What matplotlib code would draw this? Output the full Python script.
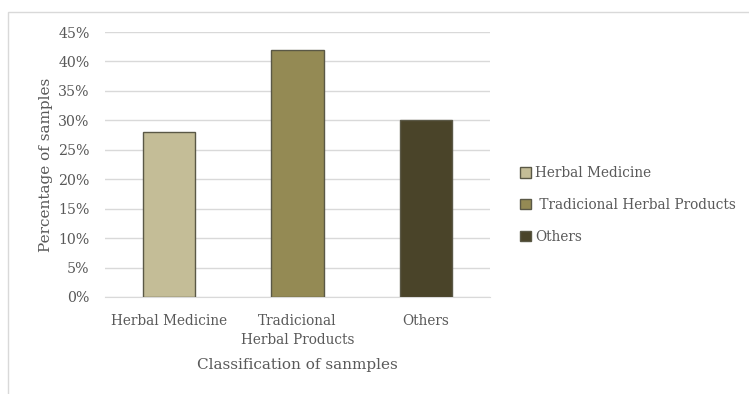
import matplotlib
matplotlib.use("Agg")
import matplotlib.pyplot as plt
from matplotlib.patches import Rectangle
from matplotlib.ticker import PercentFormatter

categories = ["Herbal Medicine", "Tradicional\nHerbal Products", "Others"]
legend_labels = ["Herbal Medicine", " Tradicional Herbal Products", "Others"]
values = [28, 42, 30]
colors = ["#c4bd97", "#948a54", "#4a4429"]
yticks = [0, 5, 10, 15, 20, 25, 30, 35, 40, 45]

plt.rcParams["font.family"] = ["DejaVu Serif"]
text_color = "#595959"

W, H = 749, 394
fig = plt.figure(figsize=(W / 100, H / 100), dpi=100)

# outer chart frame
fig.add_artist(Rectangle((8 / W, -0.1), 1.1, 1.1 - 12 / H,
                         transform=fig.transFigure, fill=False,
                         edgecolor="#d9d9d9", linewidth=1))

ax = fig.add_axes([105 / W, 1 - 297 / H, 385 / W, 265 / H])
x = range(len(categories))
bars = ax.bar(x, values, width=0.41, color=colors, edgecolor="#5a5846",
              linewidth=1.0, zorder=3)
for b, lab in zip(bars, legend_labels):
    b.set_label(lab)

ax.set_ylim(0, 45)
ax.set_xlim(-0.5, len(categories) - 0.5)
ax.set_yticks(yticks)
ax.yaxis.set_major_formatter(PercentFormatter(decimals=0))
ax.set_xticks(list(x))
ax.set_xticklabels(categories, fontsize=9.8, color=text_color, linespacing=1.45)
ax.tick_params(axis="y", labelsize=10.2, labelcolor=text_color, length=0, pad=11)
ax.tick_params(axis="x", length=0, pad=12)
ax.grid(axis="y", color="#d9d9d9", linewidth=1, zorder=0)
for s in ["top", "right", "left"]:
    ax.spines[s].set_visible(False)
ax.spines["bottom"].set_color("#d9d9d9")

ax.set_ylabel("Percentage of samples", fontsize=11, color=text_color, labelpad=4)
ax.set_xlabel("Classification of sanmples", fontsize=11, color=text_color, labelpad=8)

leg = ax.legend(handles=list(bars), loc="center left", bbox_to_anchor=(520 / W, 1 - 205 / H),
                bbox_transform=fig.transFigure, frameon=False, fontsize=9.8,
                handlelength=0.8, handleheight=0.8, handletextpad=0.3,
                labelspacing=1.3, borderaxespad=0, borderpad=0)
for t in leg.get_texts():
    t.set_color(text_color)

fig.savefig("out.png", dpi=100)
